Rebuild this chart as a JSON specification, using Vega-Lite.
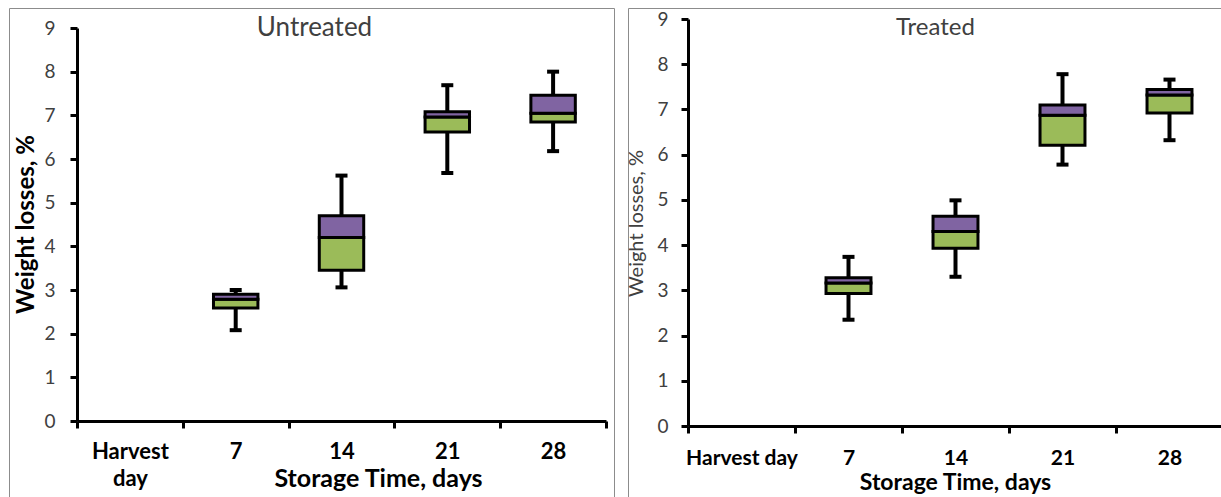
{
  "$schema": "https://vega.github.io/schema/vega-lite/v6.json",
  "padding": {"left": 8, "top": 7, "right": 2, "bottom": 0},
  "autosize": {"type": "pad"},
  "background": "white",
  "spacing": 10,
  "config": {
    "view": {"stroke": "#8c8c8c", "strokeWidth": 1},
    "font": "Lato",
    "axis": {"grid": false}
  },
  "datasets": {
    "boxes": [
      {"panel": "Untreated", "day": "7", "wlo": 2.08, "q1": 2.59, "med": 2.79, "q3": 2.90, "whi": 3.00},
      {"panel": "Untreated", "day": "14", "wlo": 3.06, "q1": 3.45, "med": 4.20, "q3": 4.70, "whi": 5.62},
      {"panel": "Untreated", "day": "21", "wlo": 5.68, "q1": 6.62, "med": 6.96, "q3": 7.08, "whi": 7.69},
      {"panel": "Untreated", "day": "28", "wlo": 6.18, "q1": 6.85, "med": 7.05, "q3": 7.46, "whi": 8.00},
      {"panel": "Treated", "day": "7", "wlo": 2.35, "q1": 2.93, "med": 3.16, "q3": 3.28, "whi": 3.74},
      {"panel": "Treated", "day": "14", "wlo": 3.30, "q1": 3.93, "med": 4.30, "q3": 4.64, "whi": 4.99},
      {"panel": "Treated", "day": "21", "wlo": 5.78, "q1": 6.21, "med": 6.87, "q3": 7.10, "whi": 7.78},
      {"panel": "Treated", "day": "28", "wlo": 6.32, "q1": 6.92, "med": 7.32, "q3": 7.44, "whi": 7.66}
    ]
  },
  "hconcat": [
    {
      "width": 605,
      "height": 490,
      "data": {"name": "boxes"},
      "transform": [{"filter": "datum.panel == 'Untreated'"}],
      "resolve": {"axis": {"x": "independent"}},
      "encoding": {
        "x": {
          "field": "day", "type": "nominal", "sort": null,
          "scale": {"domain": ["Harvest day", "7", "14", "21", "28"], "range": [68, 597], "paddingInner": 0, "paddingOuter": 0},
          "axis": null
        }
      },
      "layer": [
        {
          "mark": {"type": "rule", "strokeWidth": 4, "color": "black"},
          "encoding": {
            "x": {
              "field": "day", "type": "nominal", "sort": null,
              "scale": {"domain": ["Harvest day", "7", "14", "21", "28"], "range": [68, 597], "paddingInner": 0, "paddingOuter": 0},
              "axis": {
                "offset": -77, "orient": "bottom", "tickBand": "extent", "tickSize": 7, "tickWidth": 3,
                "domainWidth": 3, "domainColor": "black", "tickColor": "black",
                "labelFontSize": 22, "labelFontWeight": "bold", "labelColor": "black", "labelAngle": 0,
                "labelBaseline": "alphabetic", "labelPadding": 30, "labelLineHeight": 27, "labelLimit": 0, "labelOverlap": false,
                "labelExpr": "datum.label == 'Harvest day' ? ['Harvest', 'day'] : datum.label",
                "title": "Storage Time, days", "titleFontSize": 25, "titleFontWeight": "bold", "titleColor": "black",
                "titleX": 369, "titleY": 65, "titleBaseline": "alphabetic", "titleAlign": "center"
              }
            },
            "y": {
              "field": "wlo", "type": "quantitative",
              "scale": {"domain": [0, 9], "range": [413, 20], "nice": false},
              "axis": {
                "values": [0, 1, 2, 3, 4, 5, 6, 7, 8, 9], "format": "d", "offset": -68, "tickSize": 7, "tickWidth": 3,
                "domainWidth": 3, "domainColor": "black", "tickColor": "black",
                "labelFontSize": 19, "labelColor": "#404040", "labelPadding": 15,
                "title": "Weight losses, %", "titleFontSize": 24, "titleFontWeight": "bold", "titleColor": "black",
                "titleX": -51, "titleY": 216, "titleAngle": -90, "titleBaseline": "middle", "titleAlign": "center"
              }
            },
            "y2": {"field": "whi"}
          }
        },
        {
          "mark": {"type": "tick", "thickness": 4, "size": 12, "color": "black", "opacity": 1},
          "encoding": {
            "x": {
              "field": "day", "type": "nominal", "sort": null,
              "scale": {"domain": ["Harvest day", "7", "14", "21", "28"], "range": [68, 597], "paddingInner": 0, "paddingOuter": 0},
              "axis": {
                "orient": "top", "offset": 0, "domain": false, "ticks": false, "labels": false,
                "title": "Untreated", "titleFontSize": 26, "titleFontWeight": "normal", "titleColor": "#404040",
                "titleX": 305, "titleY": 27, "titleBaseline": "alphabetic", "titleAlign": "center"
              }
            },
            "y": {"field": "wlo", "type": "quantitative"}
          }
        },
        {
          "mark": {"type": "tick", "thickness": 4, "size": 12, "color": "black", "opacity": 1},
          "encoding": {"y": {"field": "whi", "type": "quantitative"}}
        },
        {
          "mark": {"type": "bar", "width": {"band": 0.42}, "fill": "#9BBB59", "stroke": "black", "strokeWidth": 3},
          "encoding": {"y": {"field": "q1", "type": "quantitative"}, "y2": {"field": "med"}}
        },
        {
          "mark": {"type": "bar", "width": {"band": 0.42}, "fill": "#8064A2", "stroke": "black", "strokeWidth": 3},
          "encoding": {"y": {"field": "med", "type": "quantitative"}, "y2": {"field": "q3"}}
        }
      ]
    },
    {
      "width": 596,
      "height": 490,
      "data": {"name": "boxes"},
      "transform": [{"filter": "datum.panel == 'Treated'"}],
      "resolve": {"axis": {"x": "independent"}},
      "encoding": {
        "x": {
          "field": "day", "type": "nominal", "sort": null,
          "scale": {"domain": ["Harvest day", "7", "14", "21", "28"], "range": [60, 595], "paddingInner": 0, "paddingOuter": 0},
          "axis": null
        }
      },
      "layer": [
        {
          "mark": {"type": "rule", "strokeWidth": 4, "color": "black"},
          "encoding": {
            "x": {
              "field": "day", "type": "nominal", "sort": null,
              "scale": {"domain": ["Harvest day", "7", "14", "21", "28"], "range": [60, 595], "paddingInner": 0, "paddingOuter": 0},
              "axis": {
                "offset": -72, "orient": "bottom", "tickBand": "extent", "tickSize": 7, "tickWidth": 3,
                "domainWidth": 3, "domainColor": "black", "tickColor": "black",
                "labelFontSize": 21, "labelFontWeight": "bold", "labelColor": "black", "labelAngle": 0,
                "labelBaseline": "alphabetic", "labelPadding": 31, "labelLimit": 0, "labelOverlap": false,
                "title": "Storage Time, days", "titleFontSize": 23, "titleFontWeight": "bold", "titleColor": "black",
                "titleX": 327, "titleY": 63, "titleBaseline": "alphabetic", "titleAlign": "center"
              }
            },
            "y": {
              "field": "wlo", "type": "quantitative",
              "scale": {"domain": [0, 9], "range": [418, 11], "nice": false},
              "axis": {
                "values": [0, 1, 2, 3, 4, 5, 6, 7, 8, 9], "format": "d", "offset": -60, "tickSize": 7, "tickWidth": 3,
                "domainWidth": 3, "domainColor": "black", "tickColor": "black",
                "labelFontSize": 19, "labelColor": "#404040", "labelPadding": 13,
                "title": "Weight losses, %", "titleFontSize": 20, "titleFontWeight": "normal", "titleColor": "#404040",
                "titleX": -52, "titleY": 215, "titleAngle": -90, "titleBaseline": "middle", "titleAlign": "center"
              }
            },
            "y2": {"field": "whi"}
          }
        },
        {
          "mark": {"type": "tick", "thickness": 4, "size": 12, "color": "black", "opacity": 1},
          "encoding": {
            "x": {
              "field": "day", "type": "nominal", "sort": null,
              "scale": {"domain": ["Harvest day", "7", "14", "21", "28"], "range": [60, 595], "paddingInner": 0, "paddingOuter": 0},
              "axis": {
                "orient": "top", "offset": 0, "domain": false, "ticks": false, "labels": false,
                "title": "Treated", "titleFontSize": 24, "titleFontWeight": "normal", "titleColor": "#404040",
                "titleX": 307, "titleY": 26, "titleBaseline": "alphabetic", "titleAlign": "center"
              }
            },
            "y": {"field": "wlo", "type": "quantitative"}
          }
        },
        {
          "mark": {"type": "tick", "thickness": 4, "size": 12, "color": "black", "opacity": 1},
          "encoding": {"y": {"field": "whi", "type": "quantitative"}}
        },
        {
          "mark": {"type": "bar", "width": {"band": 0.42}, "fill": "#9BBB59", "stroke": "black", "strokeWidth": 3},
          "encoding": {"y": {"field": "q1", "type": "quantitative"}, "y2": {"field": "med"}}
        },
        {
          "mark": {"type": "bar", "width": {"band": 0.42}, "fill": "#8064A2", "stroke": "black", "strokeWidth": 3},
          "encoding": {"y": {"field": "med", "type": "quantitative"}, "y2": {"field": "q3"}}
        }
      ]
    }
  ]
}
